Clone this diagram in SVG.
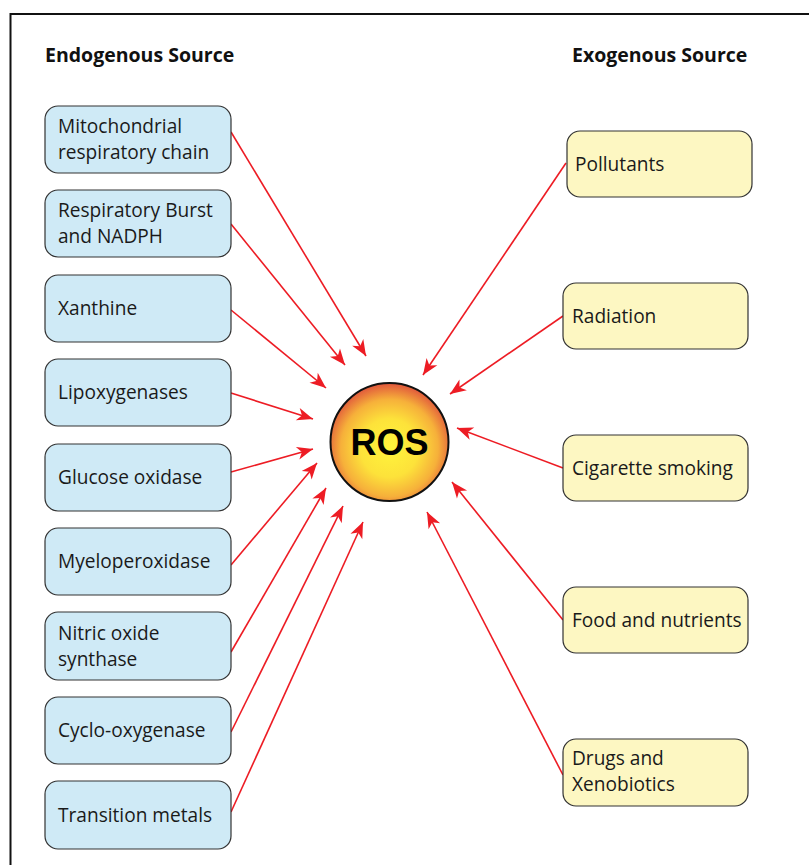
<svg xmlns="http://www.w3.org/2000/svg" width="809" height="865" viewBox="0 0 809 865">
<defs>
<style>
.hdr{font-family:"Open Sans","Liberation Sans",sans-serif;font-weight:bold;font-size:19.5px;fill:#111}
.lbl{font-family:"Open Sans","Liberation Sans",sans-serif;font-size:19.1px;fill:#1a1a1a}
.endo{fill:#cfeaf6;stroke:#333;stroke-width:1.2}
.exo{fill:#fdf7c2;stroke:#333;stroke-width:1.2}
.con{stroke:#ed1c24;stroke-width:1.6;fill:none;marker-end:url(#ah)}
</style>
<marker id="ah" markerUnits="userSpaceOnUse" viewBox="-17 -7 18 14" refX="0" refY="0" markerWidth="18" markerHeight="14" orient="auto">
<path d="M0,0 L-16,-6.5 L-11.5,0 L-16,6.5 Z" fill="#ed1c24"/>
</marker>
<radialGradient id="rg" cx="0.5" cy="0.55" r="0.55">
<stop offset="0" stop-color="#fff43c"/>
<stop offset="0.45" stop-color="#fde23a"/>
<stop offset="0.75" stop-color="#f6b03a"/>
<stop offset="1" stop-color="#e0553c"/>
</radialGradient>
</defs>
<rect x="0" y="0" width="809" height="865" fill="#fff"/>
<path d="M10.5,866 L10.5,14 L810,14" fill="none" stroke="#111" stroke-width="2"/>
<text class="hdr" x="45" y="62">Endogenous Source</text>
<text class="hdr" x="572" y="62">Exogenous Source</text>

<g id="connectors">
<line class="con" x1="231" y1="132" x2="366" y2="356"/>
<line class="con" x1="231" y1="224" x2="345" y2="365"/>
<line class="con" x1="231" y1="310" x2="326" y2="388"/>
<line class="con" x1="231" y1="393" x2="313" y2="419"/>
<line class="con" x1="231" y1="472" x2="313" y2="449"/>
<line class="con" x1="231" y1="565" x2="317" y2="463"/>
<line class="con" x1="231" y1="652" x2="326" y2="488"/>
<line class="con" x1="231" y1="732" x2="343" y2="506"/>
<line class="con" x1="231" y1="812" x2="363" y2="522"/>
<line class="con" x1="566" y1="163" x2="423" y2="375"/>
<line class="con" x1="563" y1="316" x2="450" y2="394"/>
<line class="con" x1="563" y1="468" x2="457" y2="428"/>
<line class="con" x1="563" y1="620" x2="452" y2="482"/>
<line class="con" x1="563" y1="775" x2="427" y2="512"/>
</g>

<g id="ros">
<circle cx="389.5" cy="442" r="59" fill="url(#rg)" stroke="#111" stroke-width="2"/>
<text x="389.5" y="455" text-anchor="middle" font-family="'Liberation Sans',Arial,sans-serif" font-weight="bold" font-size="36" fill="#000">ROS</text>
</g>

<g id="n1"><rect class="endo" x="45" y="106" width="186" height="67" rx="13"/><text class="lbl" x="58" y="133">Mitochondrial</text><text class="lbl" x="58" y="159">respiratory chain</text></g>
<g id="n2"><rect class="endo" x="45" y="190" width="186" height="67" rx="13"/><text class="lbl" x="58" y="217">Respiratory Burst</text><text class="lbl" x="58" y="243">and NADPH</text></g>
<g id="n3"><rect class="endo" x="45" y="275" width="186" height="67" rx="13"/><text class="lbl" x="58" y="315">Xanthine</text></g>
<g id="n4"><rect class="endo" x="45" y="359" width="186" height="67" rx="13"/><text class="lbl" x="58" y="399">Lipoxygenases</text></g>
<g id="n5"><rect class="endo" x="45" y="444" width="186" height="67" rx="13"/><text class="lbl" x="58" y="484">Glucose oxidase</text></g>
<g id="n6"><rect class="endo" x="45" y="528" width="186" height="67" rx="13"/><text class="lbl" x="58" y="568">Myeloperoxidase</text></g>
<g id="n7"><rect class="endo" x="45" y="612" width="186" height="68" rx="13"/><text class="lbl" x="58" y="640">Nitric oxide</text><text class="lbl" x="58" y="666">synthase</text></g>
<g id="n8"><rect class="endo" x="45" y="697" width="186" height="67" rx="13"/><text class="lbl" x="58" y="737">Cyclo-oxygenase</text></g>
<g id="n9"><rect class="endo" x="45" y="781" width="186" height="68" rx="13"/><text class="lbl" x="58" y="822">Transition metals</text></g>

<g id="e1"><rect class="exo" x="567" y="131" width="185" height="66" rx="13"/><text class="lbl" x="575" y="171">Pollutants</text></g>
<g id="e2"><rect class="exo" x="563" y="283" width="185" height="66" rx="13"/><text class="lbl" x="572" y="323">Radiation</text></g>
<g id="e3"><rect class="exo" x="563" y="435" width="185" height="66" rx="13"/><text class="lbl" x="572" y="475">Cigarette smoking</text></g>
<g id="e4"><rect class="exo" x="563" y="587" width="185" height="66" rx="13"/><text class="lbl" x="572" y="627">Food and nutrients</text></g>
<g id="e5"><rect class="exo" x="563" y="739" width="185" height="67" rx="13"/><text class="lbl" x="572" y="765">Drugs and</text><text class="lbl" x="572" y="791">Xenobiotics</text></g>
</svg>
